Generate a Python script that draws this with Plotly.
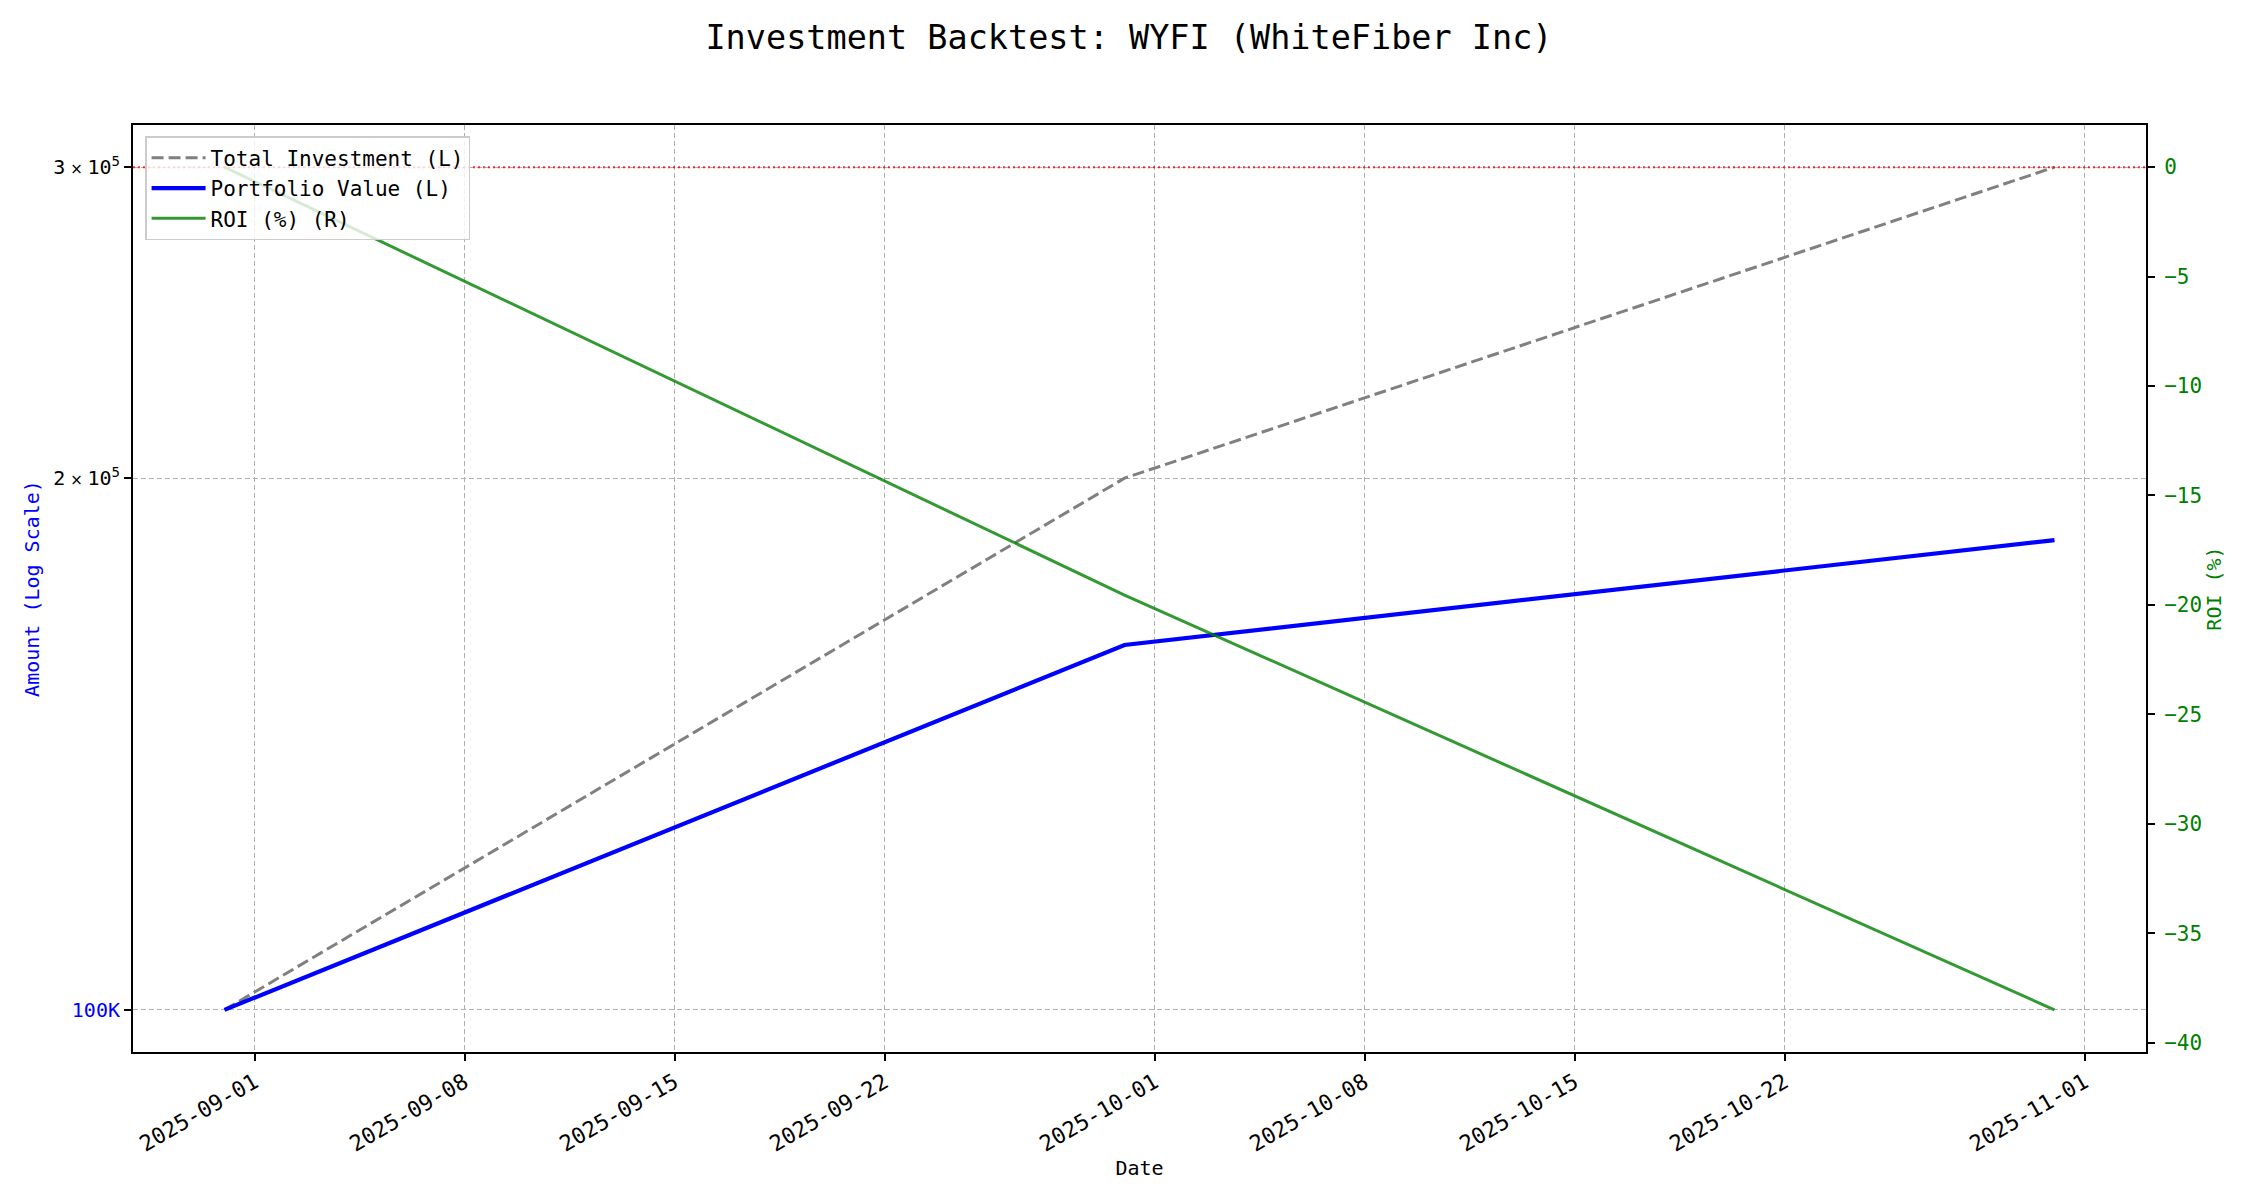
import math
import pandas as pd
import plotly.graph_objects as go

# ---------------- data ----------------
dates = ["2025-08-31", "2025-09-30", "2025-10-31"]
total_investment = [100000, 200000, 300000]
portfolio_value = [100000, 160900, 184500]
roi_pct = [0.0, -19.55, -38.5]

x_tick_dates = ["2025-09-01", "2025-09-08", "2025-09-15", "2025-09-22",
                "2025-10-01", "2025-10-08", "2025-10-15", "2025-10-22",
                "2025-11-01"]
left_tick_vals = [100000, 200000, 300000]
SP = "<span style='font-family:DejaVu Sans;font-size:15px'> × </span>"
left_tick_text = ['<span style="color:#0000ff">100K</span>',
                  '2' + SP + '10<sup>5</sup>', '3' + SP + '10<sup>5</sup>']
right_tick_vals = [0, -5, -10, -15, -20, -25, -30, -35, -40]
right_tick_text = ["0", "−5", "−10", "−15", "−20", "−25", "−30", "−35", "−40"]

FONT = "DejaVu Sans Mono"

# ---------------- ranges (matplotlib-like 5% margins) ----------------
d = pd.to_datetime(dates)
span = d.max() - d.min()
x_range = [d.min() - 0.05 * span, d.max() + 0.05 * span]

all_left = total_investment + portfolio_value
lo, hi = math.log10(min(all_left)), math.log10(max(all_left))
y_range = [lo - 0.05 * (hi - lo), hi + 0.05 * (hi - lo)]

r_lo, r_hi = min(roi_pct + [0]), max(roi_pct + [0])
y2_range = [r_lo - 0.05 * (r_hi - r_lo), r_hi + 0.05 * (r_hi - r_lo)]

fig = go.Figure()
fig.add_trace(go.Scatter(
    x=dates, y=total_investment, mode="lines", name="Total Investment (L)",
    line=dict(color="#808080", width=3, dash="12px,5px"),
    legendgroup="a", yaxis="y"))
fig.add_trace(go.Scatter(
    x=dates, y=portfolio_value, mode="lines", name="Portfolio Value (L)",
    line=dict(color="#0000ff", width=4.2),
    legendgroup="b", yaxis="y"))
fig.add_trace(go.Scatter(
    x=dates, y=roi_pct, mode="lines", name="ROI (%) (R)",
    line=dict(color="rgba(0,128,0,0.8)", width=3),
    legendgroup="c", yaxis="y2"))

fig.add_shape(type="line", xref="paper", x0=0, x1=1, yref="y2", y0=0, y1=0,
              line=dict(color="rgba(255,0,0,0.8)", width=2, dash="2px,3px"),
              layer="above")

axis_common = dict(showline=True, linecolor="black", linewidth=2,
                   ticks="outside", ticklen=7, tickwidth=1.7, tickcolor="black",
                   zeroline=False)

# the page body adds an 8px offset; size the figure to keep the plot area in place
fig.update_layout(
    width=2242, height=1192,
    paper_bgcolor="white", plot_bgcolor="white",
    margin=dict(l=125, r=104, t=117, b=148, autoexpand=False),
    font=dict(family=FONT, size=20, color="black"),
    title=dict(text="Investment Backtest: WYFI (WhiteFiber Inc)",
               x=0.5, xanchor="center", y=1 - 29 / 1192, yanchor="middle",
               yref="container", font=dict(family=FONT, size=33.5, color="black")),
    xaxis=dict(type="date", range=x_range, tickvals=x_tick_dates,
               tickformat="%Y-%m-%d", tickangle=-30, mirror=True,
               showgrid=True, gridcolor="#b0b0b0", gridwidth=1, griddash="5px,3px",
               tickfont=dict(size=22),
               title=dict(text="Date", standoff=6, font=dict(size=20)),
               **axis_common),
    yaxis=dict(type="log", range=y_range, tickvals=left_tick_vals,
               ticktext=left_tick_text, mirror=True,
               showgrid=True, gridcolor="#b0b0b0", gridwidth=1, griddash="5px,3px",
               tickfont=dict(size=20, color="black"),
               title=dict(text="Amount (Log Scale)", standoff=8,
                          font=dict(size=20, color="#0000ff")),
               **axis_common),
    yaxis2=dict(overlaying="y", side="right", range=y2_range,
                tickvals=right_tick_vals, ticktext=right_tick_text,
                showgrid=False, ticklabelstandoff=5,
                tickfont=dict(size=21, color="#008000"),
                title=dict(text="ROI (%)", standoff=0,
                           font=dict(size=20, color="#008000")),
                **axis_common),
    legend=dict(x=0.006, y=0.988, xanchor="left", yanchor="top",
                bgcolor="rgba(255,255,255,0.8)", bordercolor="#cccccc",
                borderwidth=1.5, font=dict(family=FONT, size=21),
                itemwidth=54, traceorder="grouped", tracegroupgap=0),
    showlegend=True,
)

fig.write_html("out.html")
